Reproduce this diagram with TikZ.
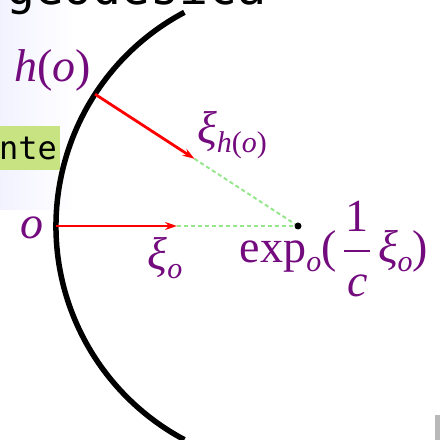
\documentclass[tikz,border=0pt]{standalone}
\usepackage{fontspec}
\setmainfont{Liberation Serif}
\newfontfamily\slidefont{DejaVu Sans Mono}
\usetikzlibrary{arrows.meta,positioning,calc}
\definecolor{labpurple}{RGB}{115,10,125}
\definecolor{guidegreen}{RGB}{150,230,140}
\definecolor{boxgreen}{RGB}{200,228,130}
\newcommand{\iv}[1]{\textit{#1}}
\newcommand{\lowsub}[1]{\raisebox{-9pt}{\fontsize{30}{32}\selectfont #1}}
\newcommand{\stackfrac}[2]{\,\raisebox{-34pt}{\shortstack{#1\\[16pt]\rule{26pt}{2.2pt}\\[20pt]#2}}\,}

\begin{document}
\begin{tikzpicture}[
    x=1pt, y=1pt,
    curve/.style={line width=5.5pt},
    vec/.style={-{Stealth[length=12pt,width=8pt]}, red, line width=2.8pt},
    guide/.style={guidegreen, dash pattern=on 4pt off 3pt, line width=2pt},
    lbl/.style={text=labpurple, font=\fontsize{46}{52}\selectfont, inner sep=0pt}
]
    \useasboundingbox (0,0) rectangle (440,440);
    \clip (0,0) rectangle (440,440);
    % what is left of the slide around the figure
    \shade[left color=blue!5, right color=white] (0,230) rectangle (75,440);
    \fill[gray!55] (435,0) rectangle (440,25);
    \node[anchor=base west, inner sep=0pt, font=\slidefont\fontsize{48}{52}\selectfont] (title) at (6,435) {geodesica};
    \node[fill=boxgreen, anchor=base east, inner xsep=3pt, inner ysep=0pt,
          text height=34pt, text depth=10pt, font=\slidefont\fontsize{32}{36}\selectfont] (word) at (60,280) {nte};

    \coordinate (c) at (298,214);
    \node[circle, fill, inner sep=0pt, minimum size=7pt] (expo) at (c) {};
    \draw[curve] ($(c)+(118:242)$) arc[start angle=118, end angle=242, radius=242];
    \coordinate (o) at ($(c)+(180:242)$);
    \coordinate (ho) at ($(c)+(147:242)$);
    \coordinate (xio) at ($(o)!0.5!(c)$);
    \coordinate (xiho) at ($(ho)!0.49!(c)$);

    \draw[guide] (xio) -- (expo);
    \draw[guide] (xiho) -- (expo);
    \draw[vec] (o) -- (xio);
    \draw[vec] (ho) -- (xiho);

    \node[lbl] (holbl) at (53,370) {\iv{h}(\iv{o})};
    \node[lbl] (xiholbl) at (232,305) {\iv{ξ}\lowsub{\iv{h}(\iv{o})}};
    \node[lbl] (olbl) at (32,212) {\iv{o}};
    \node[lbl] (xiolbl) at (165,182) {\iv{ξ}\lowsub{\iv{o}}};
    \node[lbl, anchor=base] (explbl) at (334,177) {exp\lowsub{\iv{o}}(\stackfrac{1}{\iv{c}}\iv{ξ}\lowsub{\iv{o}})};
\end{tikzpicture}
\end{document}
